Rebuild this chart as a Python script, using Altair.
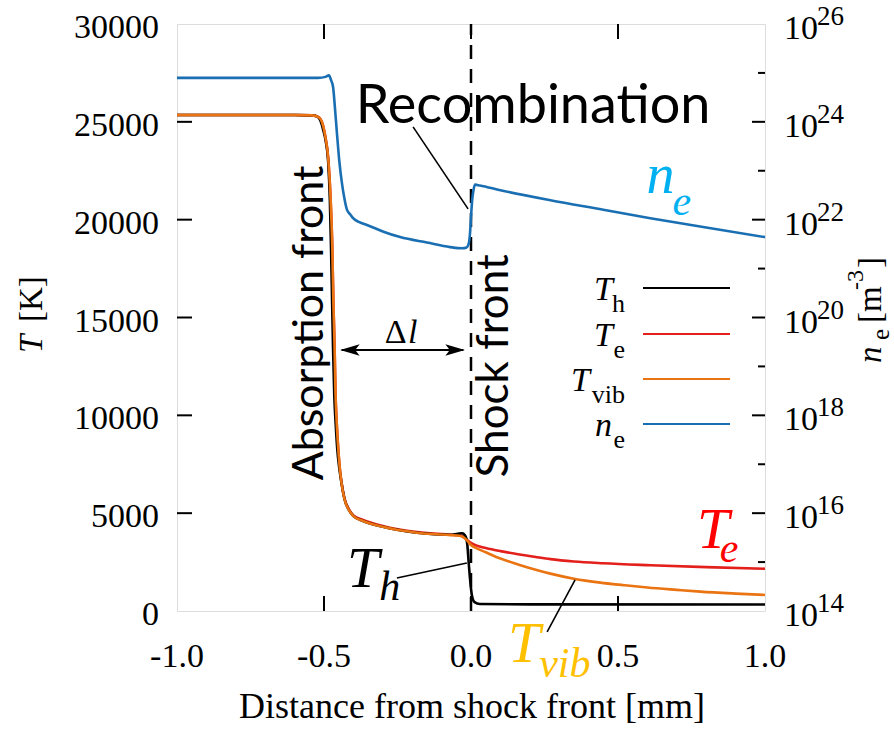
import altair as alt
import pandas as pd

# ---------------- data ----------------
th_x = [-1.0, -0.6, -0.54, -0.524, -0.512, -0.503, -0.494, -0.486, -0.48, -0.476, -0.472, -0.469,
        -0.465, -0.46, -0.455, -0.448, -0.44, -0.43, -0.415, -0.4, -0.367, -0.3, -0.184, -0.07,
        -0.045, -0.03, -0.018, -0.012, -0.008, -0.003, 0.003, 0.012, 0.03, 0.2, 1.0]
th_T = [25350, 25350, 25330, 25280, 25050, 24600, 24000, 23000, 21000, 18500, 15500, 13300,
        11000, 9500, 8300, 7300, 6500, 5700, 5150, 4850, 4600, 4300, 4000, 3900,
        3950, 3970, 3800, 3300, 2500, 1600, 800, 450, 360, 340, 330]

tv_x = [-1.0, -0.6, -0.54, -0.52, -0.505, -0.495, -0.486, -0.478, -0.472, -0.468, -0.464, -0.461,
        -0.457, -0.452, -0.447, -0.44, -0.43, -0.415, -0.4, -0.367, -0.3, -0.184, -0.07, -0.04,
        -0.025, -0.012, 0.0, 0.02, 0.05, 0.1, 0.16, 0.22, 0.27, 0.35, 0.44, 0.52, 0.6, 0.7, 0.78, 0.9, 1.0]
tv_T = [25350, 25350, 25330, 25250, 24900, 24200, 23200, 21200, 18700, 15700, 13500, 11200,
        9700, 8400, 7400, 6500, 5700, 5150, 4850, 4600, 4300, 4000, 3880, 3850,
        3760, 3580, 3370, 3200, 3000, 2680, 2380, 2110, 1910, 1650, 1450, 1320, 1200, 1080, 990, 890, 820]

te_x = [-1.0, -0.6, -0.54, -0.52, -0.505, -0.495, -0.486, -0.478, -0.472, -0.468, -0.464, -0.461,
        -0.457, -0.452, -0.447, -0.44, -0.43, -0.415, -0.4, -0.367, -0.3, -0.184, -0.07, -0.04,
        -0.025, -0.012, 0.0, 0.02, 0.05, 0.1, 0.16, 0.22, 0.27, 0.35, 0.45, 0.61, 0.8, 1.0]
te_T = [25350, 25350, 25330, 25250, 24900, 24200, 23200, 21200, 18700, 15700, 13500, 11200,
        9700, 8400, 7400, 6520, 5740, 5200, 4890, 4650, 4340, 4030, 3900, 3870,
        3790, 3620, 3480, 3340, 3220, 3060, 2900, 2760, 2650, 2530, 2440, 2340, 2240, 2160]

ne_x = [-1.0, -0.7, -0.52, -0.495, -0.483, -0.476, -0.469, -0.463, -0.456, -0.448, -0.439, -0.431,
        -0.422, -0.41, -0.401, -0.38, -0.354, -0.3, -0.241, -0.15, -0.071, -0.03, -0.015, -0.008,
        -0.003, 0.0, 0.004, 0.009, 0.014, 0.03, 0.1, 0.27, 0.45, 0.61, 0.8, 1.0]
ne_v = [7.9e24, 7.9e24, 7.9e24, 8.3e24, 8.9e24, 7.1e24, 5.1e24, 2.0e24, 5.9e23, 1.6e23, 5.6e22, 2.8e22,
        1.6e22, 1.26e22, 1.07e22, 8.9e21, 7.8e21, 5.75e21, 4.4e21, 3.4e21, 2.75e21, 2.6e21, 2.7e21, 3.2e21,
        5.6e21, 1.12e22, 2.5e22, 4.2e22, 5.2e22, 5.0e22, 4.0e22, 2.5e22, 1.6e22, 1.07e22, 6.9e21, 4.4e21]

x_ticks = [-1.0, -0.5, 0.0, 0.5, 1.0]
x_labels = ["-1.0", "-0.5", "0.0", "0.5", "1.0"]
x_inner_ticks = [-0.5, 0.0, 0.5]
T_ticks = [0, 5000, 10000, 15000, 20000, 25000, 30000]
T_labels = ["0", "5000", "10000", "15000", "20000", "25000", "30000"]
T_inner_ticks = [5000, 10000, 15000, 20000, 25000]
ne_major = [1e16, 1e18, 1e20, 1e22, 1e24]
ne_minor = [1e15, 1e17, 1e19, 1e21, 1e23, 1e25]
ne_labels = [1e14, 1e16, 1e18, 1e20, 1e22, 1e24, 1e26]
ne_exps = ["14", "16", "18", "20", "22", "24", "26"]

legend_main = ["T", "T", "T", "n"]
legend_sub = ["h", "e", "vib", "e"]
legend_colors = ["#000000", "#e3201b", "#ea7312", "#1a6fb3"]

# ---------------- layout ----------------
W, H = 588, 587
SERIF = "Liberation Serif"
SANS = "Lato"
C_TH, C_TE, C_TV, C_NE = legend_colors

xs = alt.Scale(domain=[-1, 1], nice=False, zero=False)
Ts = alt.Scale(domain=[0, 30000], nice=False, zero=False)
Ns = alt.Scale(type="log", domain=[1e14, 1e26], nice=False)


def X(f="x"):
    return alt.X(f"{f}:Q", scale=xs, axis=None)


def Y(f="T"):
    return alt.Y(f"{f}:Q", scale=Ts, axis=None)


def PX(f="px"):
    return alt.X(f"{f}:Q", scale=None, axis=None)


def PY(f="py"):
    return alt.Y(f"{f}:Q", scale=None, axis=None)


# temperature lines
df_te = pd.DataFrame({"x": te_x, "T": te_T})
df_th = pd.DataFrame({"x": th_x, "T": th_T})
df_tv = pd.DataFrame({"x": tv_x, "T": tv_T})

te_line = alt.Chart(df_te).mark_line(color=C_TE, strokeWidth=2.6, interpolate="monotone").encode(x=X(), y=Y())
th_line = alt.Chart(df_th).mark_line(color=C_TH, strokeWidth=2.6, interpolate="monotone").encode(x=X(), y=Y())
tv_line = alt.Chart(df_tv).mark_line(color=C_TV, strokeWidth=2.6, interpolate="monotone").encode(x=X(), y=Y())

# dashed shock front line
shock = alt.Chart(pd.DataFrame({"x": [0.0], "T": [0], "T2": [30000]})).mark_rule(
    color="black", strokeWidth=2.5, strokeDash=[14, 10]).encode(
    x=X(), y=Y(), y2="T2:Q")

# inward ticks
left_ticks = alt.Chart(pd.DataFrame({"T": T_inner_ticks})).mark_rule(color="black", strokeWidth=2).encode(
    x=alt.value(0), x2=alt.value(15), y=Y())
df_xt = pd.DataFrame({"x": x_inner_ticks})
bot_ticks = alt.Chart(df_xt).mark_rule(color="black", strokeWidth=2).encode(
    x=X(), y=alt.value(H), y2=alt.value(H - 15))
top_ticks = alt.Chart(df_xt).mark_rule(color="black", strokeWidth=2).encode(
    x=X(), y=alt.value(0), y2=alt.value(15))

# tick labels
left_labels = alt.Chart(pd.DataFrame({"T": T_ticks, "lab": T_labels})).mark_text(
    font=SERIF, fontSize=34, align="right", baseline="middle", dy=4, color="black").encode(
    x=alt.value(-18), y=Y(), text="lab:N")
bot_labels = alt.Chart(pd.DataFrame({"x": x_ticks, "lab": x_labels})).mark_text(
    font=SERIF, fontSize=34, align="center", baseline="middle", color="black").encode(
    x=X(), y=alt.value(H + 46), text="lab:N")

# annotation pointer lines (data coordinates)
ptr = pd.DataFrame({
    "x": [-0.197, -0.252, 0.354],
    "T": [24740, 1690, 1585],
    "x2": [-0.010, -0.014, 0.259],
    "T2": [20550, 2450, -1070],
})
pointers = alt.Chart(ptr).mark_rule(color="black", strokeWidth=1.6).encode(
    x=X(), y=Y(), x2="x2:Q", y2="T2:Q")

# delta-l arrow
arrow_line = alt.Chart(pd.DataFrame({"x": [-0.44], "x2": [-0.026], "T": [13340]})).mark_rule(
    color="black", strokeWidth=2).encode(x=X(), x2="x2:Q", y=Y())
head_l = alt.Chart(pd.DataFrame({"x": [-0.412], "T": [13340]})).mark_point(
    shape="M-1,0L1,-0.6L0.55,0L1,0.6Z", filled=True, color="black", size=380, opacity=1).encode(x=X(), y=Y())
head_r = alt.Chart(pd.DataFrame({"x": [-0.054], "T": [13340]})).mark_point(
    shape="M1,0L-1,-0.6L-0.55,0L-1,0.6Z", filled=True, color="black", size=380, opacity=1).encode(x=X(), y=Y())


def dtext(rows, font, size, color="black", style="normal", align="left", baseline="alphabetic", angle=0):
    df = pd.DataFrame(rows, columns=["x", "T", "text"])
    return alt.Chart(df).mark_text(font=font, fontSize=size, color=color, fontStyle=style,
                                   align=align, baseline=baseline, angle=angle).encode(
        x=X(), y=Y(), text="text:N")


def ptext(rows, font, size, color="black", style="normal", align="left", baseline="alphabetic", angle=0):
    df = pd.DataFrame(rows, columns=["px", "py", "text"])
    return alt.Chart(df).mark_text(font=font, fontSize=size, color=color, fontStyle=style,
                                   align=align, baseline=baseline, angle=angle).encode(
        x=PX(), y=PY(), text="text:N")


annots = [
    dtext([[-0.392, 24950, "Recombination"]], SANS, 54),
    dtext([[-0.548, 14720, "Absorption front"]], SANS, 43, align="center", baseline="middle", angle=270),
    dtext([[0.082, 12530, "Shock front"]], SANS, 44, align="center", baseline="middle", angle=270),
    dtext([[-0.293, 13700, "Δ"]], SERIF, 34),
    dtext([[-0.214, 13700, "l"]], SERIF, 34, style="italic"),
    dtext([[-0.422, 1230, "T"]], SERIF, 58, style="italic"),
    dtext([[-0.312, 560, "h"]], SERIF, 42, style="italic"),
    dtext([[0.769, 3220, "T"]], SERIF, 58, color="#ff0000", style="italic"),
    dtext([[0.846, 2500, "e"]], SERIF, 42, color="#ff0000", style="italic"),
    dtext([[0.126, -2600, "T"]], SERIF, 58, color="#ffc000", style="italic"),
    dtext([[0.232, -3370, "vib"]], SERIF, 42, color="#ffc000", style="italic"),
    dtext([[0.597, 21370, "n"]], SERIF, 56, color="#00b0f0", style="italic"),
    dtext([[0.685, 20250, "e"]], SERIF, 42, color="#00b0f0", style="italic"),
]

# legend (pixel positions inside the plot area)
rows_y = [264, 310, 355, 400]
main_right = [436, 436, 413, 435]
leg_df = pd.DataFrame({"px": [466] * 4, "px2": [553] * 4, "py": rows_y, "c": legend_colors})
leg_lines = alt.Chart(leg_df).mark_rule(strokeWidth=1.8).encode(
    x=PX(), x2="px2:Q", y=PY(), color=alt.Color("c:N", scale=None))
leg_main = ptext([[main_right[i], rows_y[i] + 12, legend_main[i]] for i in range(4)],
                 SERIF, 34, style="italic", align="right")
leg_sub = ptext([[448, rows_y[i] + 24, legend_sub[i]] for i in range(4)], SERIF, 26, align="right")

# axis titles (pixel positions)
titles = [
    ptext([[295, 694, "Distance from shock front [mm]"]], SERIF, 36, align="center"),
    ptext([[-145, 329, "T"]], SERIF, 33, style="italic", align="left", baseline="middle", angle=270),
    ptext([[-145, 298, "[K]"]], SERIF, 33, align="left", baseline="middle", angle=270),
    ptext([[694, 339, "n"]], SERIF, 33, style="italic", align="left", baseline="middle", angle=270),
    ptext([[704, 316, "e"]], SERIF, 25, align="left", baseline="middle", angle=270),
    ptext([[694, 299, "[m"]], SERIF, 33, align="left", baseline="middle", angle=270),
    ptext([[679, 266, "-3"]], SERIF, 24, align="left", baseline="middle", angle=270),
    ptext([[694, 244, "]"]], SERIF, 33, align="left", baseline="middle", angle=270),
]

T_layer = alt.layer(te_line, th_line, tv_line, shock, left_ticks, bot_ticks, top_ticks,
                    left_labels, bot_labels,
                    pointers, arrow_line, head_l, head_r, leg_lines, leg_main, leg_sub,
                    *annots, *titles)

# electron density layer (log scale, right side)
df_ne = pd.DataFrame({"x": ne_x, "ne": ne_v})
NY = alt.Y("ne:Q", scale=Ns, axis=None)
ne_line = alt.Chart(df_ne).mark_line(color=C_NE, strokeWidth=2.6, interpolate="monotone").encode(x=X(), y=NY)
r_major = alt.Chart(pd.DataFrame({"ne": ne_major})).mark_rule(color="black", strokeWidth=2).encode(
    x=alt.value(W - 13), x2=alt.value(W), y=NY)
r_minor = alt.Chart(pd.DataFrame({"ne": ne_minor})).mark_rule(color="black", strokeWidth=2).encode(
    x=alt.value(W - 7), x2=alt.value(W), y=NY)
df_lab = pd.DataFrame({"ne": ne_labels, "base": ["10"] * len(ne_labels), "exp": ne_exps})
r_base = alt.Chart(df_lab).mark_text(font=SERIF, fontSize=34, align="left", baseline="middle", dy=5,
                                     color="black").encode(x=alt.value(W + 19), y=NY, text="base:N")
r_exp = alt.Chart(df_lab).mark_text(font=SERIF, fontSize=27, align="left", baseline="middle", dy=-7,
                                    color="black").encode(x=alt.value(W + 52), y=NY, text="exp:N")
N_layer = alt.layer(ne_line, r_major, r_minor, r_base, r_exp)

chart = alt.layer(T_layer, N_layer).resolve_scale(y="independent").properties(
    width=W, height=H,
    autosize=alt.AutoSizeParams(type="none"),
    padding={"left": 177, "top": 24, "right": 894 - 177 - W, "bottom": 731 - 24 - H},
).configure_view(stroke="black", strokeWidth=2.2).configure(background="white")

chart.save("out.html", embed_options={"renderer": "svg", "actions": False})
